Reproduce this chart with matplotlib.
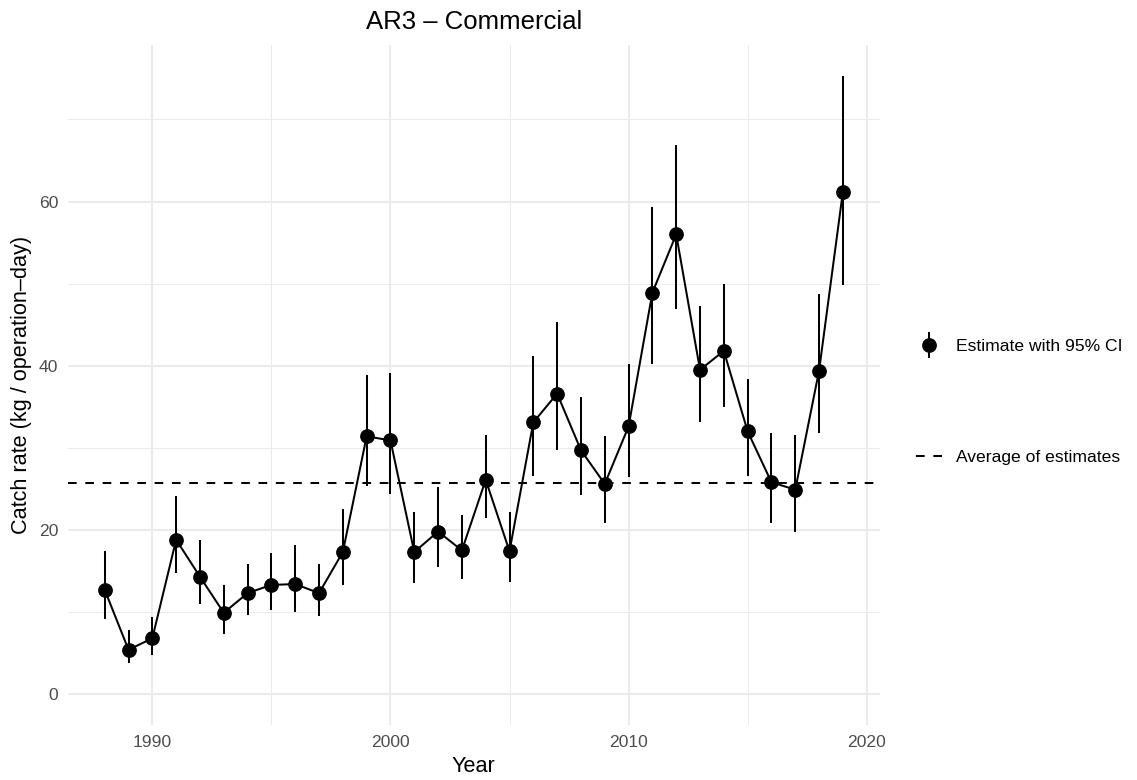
import numpy as np
import matplotlib
matplotlib.use("Agg")
import matplotlib.pyplot as plt
from matplotlib.ticker import MultipleLocator
from matplotlib.legend_handler import HandlerErrorbar
from matplotlib.container import ErrorbarContainer

plt.rcParams['font.family'] = ['Liberation Sans', 'DejaVu Sans']

# ---- data -------------------------------------------------------------
years = list(range(1988, 2020))
estimate = [12.7, 5.4, 6.8, 18.8, 14.3, 9.9, 12.3, 13.3, 13.4, 12.3,
            17.3, 31.4, 30.9, 17.3, 19.8, 17.5, 26.1, 17.4, 33.1, 36.6,
            29.7, 25.6, 32.6, 48.9, 56.0, 39.5, 41.8, 32.0, 25.8, 24.9,
            39.4, 61.2]
lower_ci = [9.2, 3.8, 4.8, 14.8, 11.0, 7.3, 9.6, 10.2, 10.0, 9.5,
            13.3, 25.4, 24.4, 13.5, 15.5, 14.0, 21.5, 13.7, 26.6, 29.7,
            24.3, 20.9, 26.4, 40.2, 46.9, 33.1, 35.0, 26.6, 20.8, 19.7,
            31.8, 49.8]
upper_ci = [17.4, 7.8, 9.4, 24.1, 18.8, 13.3, 15.8, 17.2, 18.1, 15.9,
            22.5, 38.9, 39.1, 22.2, 25.2, 21.8, 31.6, 22.2, 41.2, 45.3,
            36.2, 31.4, 40.2, 59.3, 66.9, 47.3, 49.9, 38.4, 31.8, 31.5,
            48.7, 75.3]
x_ticks = [1990, 2000, 2010, 2020]
y_ticks = [0, 20, 40, 60]

title = "AR3 \u2013 Commercial"
x_label = "Year"
y_label = "Catch rate (kg / operation\u2013day)"
legend_labels = ["Estimate with 95% CI", "Average of estimates"]

# ---- derived ----------------------------------------------------------
yrs = np.array(years)
est = np.array(estimate)
lo = np.array(lower_ci)
hi = np.array(upper_ci)
average_estimate = est.mean()

W, H, DPI = 1137, 780, 100
fig = plt.figure(figsize=(W / DPI, H / DPI), dpi=DPI)
fig.patch.set_facecolor("white")

left_px, right_px, top_px, bottom_px = 67.8, 879.8, 45.0, 725.0
ax = fig.add_axes([left_px / W, 1 - bottom_px / H,
                   (right_px - left_px) / W, (bottom_px - top_px) / H])

# ggplot-like limits (5% expansion, 0 included)
ymin, ymax = min(0, lo.min()), hi.max()
yspan = ymax - ymin
ax.set_ylim(ymin - 0.05 * yspan, ymax + 0.05 * yspan)
xspan = yrs.max() - yrs.min()
ax.set_xlim(yrs.min() - 0.05 * xspan, yrs.max() + 0.05 * xspan)

grid_col = "#EBEBEB"
ax.set_xticks(x_ticks)
ax.set_yticks(y_ticks)
ax.xaxis.set_minor_locator(MultipleLocator(5))
ax.yaxis.set_minor_locator(MultipleLocator(10))
ax.grid(which="major", color=grid_col, lw=1.4, zorder=0)
ax.grid(which="minor", color=grid_col, lw=0.7, zorder=0)
ax.set_axisbelow(True)
for s in ax.spines.values():
    s.set_visible(False)
ax.tick_params(which="both", length=0, labelsize=12.6, labelcolor="#4D4D4D")
ax.tick_params(axis="x", pad=7.5)
ax.tick_params(axis="y", pad=7.0)

# average line
avg_line = ax.axhline(average_estimate, color="black", lw=1.45,
                      linestyle=(0, (4.3, 4.3)), zorder=2)
# connecting line
ax.plot(yrs, est, color="black", lw=1.45, zorder=3)
# point-range
eb = ax.errorbar(yrs, est, yerr=[est - lo, hi - est], fmt="o", color="black",
                 ms=9.6, elinewidth=1.45, capsize=0, zorder=4)

# titles
cx = (left_px + right_px) / 2 / W
fig.text(cx, 1 - 22 / H, title, ha="center", va="center", fontsize=18.5)
fig.text(cx, 1 - 767 / H, x_label, ha="center", va="center", fontsize=15.6)
fig.text(22 / W, 1 - 385 / H, y_label, ha="center", va="center",
         rotation=90, fontsize=15.6)

# legends (two separate keys like ggplot)
leg_fs = 12.6
leg1 = fig.legend([eb], [legend_labels[0]], loc="center left",
                  bbox_to_anchor=(916 / W, 1 - 346.7 / H), frameon=False,
                  fontsize=leg_fs, borderaxespad=0, borderpad=0,
                  handlelength=1.5, handletextpad=0.8,
                  handler_map={ErrorbarContainer: HandlerErrorbar(xerr_size=0.74)})
leg2 = fig.legend([avg_line], [legend_labels[1]], loc="center left",
                  bbox_to_anchor=(916 / W, 1 - 457 / H), frameon=False,
                  fontsize=leg_fs, borderaxespad=0, borderpad=0,
                  handlelength=1.5, handletextpad=0.8)

fig.savefig("out.png", dpi=DPI, facecolor="white")
